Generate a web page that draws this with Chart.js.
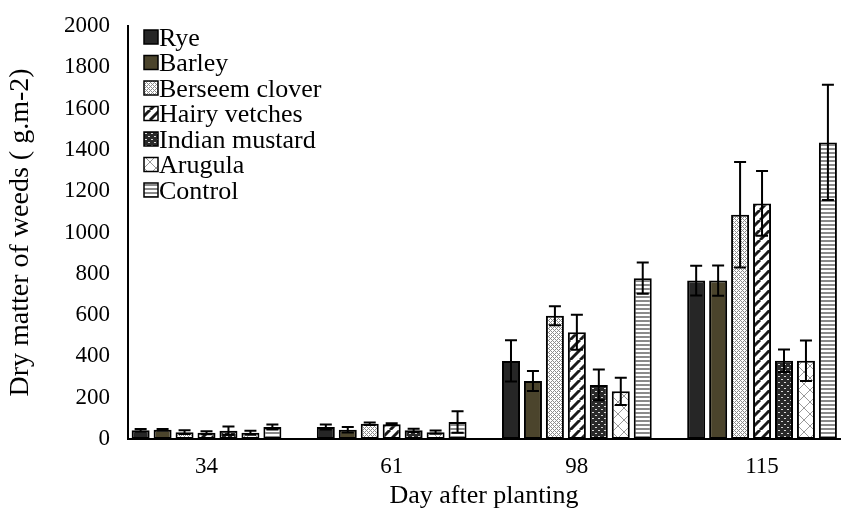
<!DOCTYPE html>
<html>
<head>
<meta charset="utf-8">
<script src="https://cdn.jsdelivr.net/npm/chart.js@4/dist/chart.umd.min.js"></script>
<style>
  html, body { margin: 0; padding: 0; background: #ffffff; }
  #wrap { width: 849px; height: 516px; }
</style>
</head>
<body>
<div id="wrap"><canvas id="chart" width="849" height="516"></canvas></div>
<script>
// Days after planting (x categories)
const categories = ['34', '61', '98', '115'];
const seriesNames = ['Rye', 'Barley', 'Berseem clover', 'Hairy vetches', 'Indian mustard', 'Arugula', 'Control'];

// Weed dry matter (g m-2) per treatment, and the error-bar half heights
const rye         = [42, 58, 378, 767];
const barley      = [45, 45, 281, 767];
const berseem     = [33, 74, 597, 1086];
const hairyVetch  = [30, 71, 517, 1141];
const mustard     = [40, 42, 262, 379];
const arugula     = [30, 33, 231, 379];
const control     = [58, 82, 779, 1436];

const ryeErr      = [7, 12, 100, 72];
const barleyErr   = [4, 13, 48, 73];
const berseemErr  = [9, 6, 46, 255];
const hairyErr    = [7, 5, 85, 157];
const mustardErr  = [20, 8, 74, 55];
const arugulaErr  = [10, 8, 66, 98];
const controlErr  = [12, 52, 76, 279];

const yTicks = [0, 200, 400, 600, 800, 1000, 1200, 1400, 1600, 1800, 2000];

const FONT = "'Liberation Serif', 'Times New Roman', serif";

// ---- fill patterns -------------------------------------------------------
function tile(w, h, draw) {
  const c = document.createElement('canvas');
  c.width = w; c.height = h;
  const g = c.getContext('2d');
  draw(g, w, h);
  return document.getElementById('chart').getContext('2d').createPattern(c, 'repeat');
}

const fills = [
  '#262626',
  '#4b442c',
  // fine grey lattice
  tile(4, 4, (g) => {
    g.fillStyle = '#ffffff'; g.fillRect(0, 0, 4, 4);
    g.fillStyle = '#8c8c8c';
    g.fillRect(0, 0, 1, 1); g.fillRect(2, 2, 1, 1);
    g.fillRect(1, 1, 1, 1); g.fillRect(3, 3, 1, 1);
    g.fillRect(3, 1, 1, 1); g.fillRect(1, 3, 1, 1);
  }),
  // wide upward diagonal stripes
  tile(10, 10, (g) => {
    g.fillStyle = '#ffffff'; g.fillRect(0, 0, 10, 10);
    g.strokeStyle = '#1a1a1a'; g.lineWidth = 3;
    for (let k = -10; k <= 20; k += 10) {
      g.beginPath(); g.moveTo(k, 10); g.lineTo(k + 10, 0); g.stroke();
    }
  }),
  // dark with small light dashes
  tile(6, 6, (g) => {
    g.fillStyle = '#2a2a2a'; g.fillRect(0, 0, 6, 6);
    g.fillStyle = '#d9d9d9';
    g.fillRect(1, 1, 2, 1); g.fillRect(4, 4, 2, 1);
  }),
  // large diagonal cross-hatch
  tile(12, 12, (g) => {
    g.fillStyle = '#ffffff'; g.fillRect(0, 0, 12, 12);
    g.strokeStyle = '#9a9a9a'; g.lineWidth = 1;
    g.beginPath(); g.moveTo(0, 0); g.lineTo(12, 12); g.stroke();
    g.beginPath(); g.moveTo(12, 0); g.lineTo(0, 12); g.stroke();
  }),
  // narrow horizontal stripes
  tile(4, 4, (g) => {
    g.fillStyle = '#ffffff'; g.fillRect(0, 0, 4, 4);
    g.fillStyle = '#8a8a8a'; g.fillRect(0, 0, 4, 2);
  })
];

const values = [rye, barley, berseem, hairyVetch, mustard, arugula, control];
const errors = [ryeErr, barleyErr, berseemErr, hairyErr, mustardErr, arugulaErr, controlErr];

const datasets = seriesNames.map((name, i) => ({
  label: name,
  data: values[i].map((v, j) => ({ x: j, y: v })),
  errors: errors[i],
  backgroundColor: fills[i],
  borderColor: '#000000',
  borderWidth: 2,
  borderSkipped: false,
  categoryPercentage: 0.83,
  barPercentage: 0.82
}));

// ---- error bars ---------------------------------------------------------
const errorBars = {
  id: 'errorBars',
  afterDatasetsDraw(chart) {
    const ctx = chart.ctx;
    const y = chart.scales.y;
    ctx.save();
    ctx.strokeStyle = '#000000';
    ctx.lineWidth = 2;
    chart.data.datasets.forEach((ds, i) => {
      const meta = chart.getDatasetMeta(i);
      meta.data.forEach((bar, j) => {
        const v = ds.data[j].y, e = ds.errors[j];
        const x = bar.x;
        const yt = y.getPixelForValue(v + e);
        const yb = y.getPixelForValue(Math.max(v - e, 0));
        const cap = 6;
        ctx.beginPath();
        ctx.moveTo(x, yt); ctx.lineTo(x, yb);
        ctx.moveTo(x - cap, yt); ctx.lineTo(x + cap, yt);
        ctx.moveTo(x - cap, yb); ctx.lineTo(x + cap, yb);
        ctx.stroke();
      });
    });
    ctx.restore();
  }
};

// ---- legend drawn inside the plot ----------------------------------------
const innerLegend = {
  id: 'innerLegend',
  afterDraw(chart) {
    const ctx = chart.ctx;
    ctx.save();
    ctx.font = '26px ' + FONT;
    ctx.textBaseline = 'alphabetic';
    chart.data.datasets.forEach((ds, i) => {
      const cy = 37 + i * 25.5;
      const bx = 144, size = 14;
      ctx.fillStyle = ds.backgroundColor;
      ctx.fillRect(bx, cy - size / 2, size, size);
      ctx.strokeStyle = '#000000';
      ctx.lineWidth = 1.5;
      ctx.strokeRect(bx, cy - size / 2, size, size);
      ctx.fillStyle = '#000000';
      ctx.fillText(ds.label, 159, cy + 8.5);
    });
    ctx.restore();
  }
};

new Chart(document.getElementById('chart'), {
  type: 'bar',
  data: { datasets },
  options: {
    responsive: false,
    animation: false,
    layout: { padding: { left: 0, right: 9, top: 26, bottom: 0 } },
    plugins: {
      legend: { display: false },
      tooltip: { enabled: false }
    },
    scales: {
      x: {
        type: 'linear',
        offset: false,
        min: -0.424,
        max: 3.421,
        afterBuildTicks: (s) => { s.ticks = categories.map((_, j) => ({ value: j })); },
        afterFit: (s) => { s.height = 77; s.paddingLeft = 0; s.paddingRight = 0; },
        grid: { display: false, drawTicks: false },
        border: { display: true, color: '#000000', width: 2 },
        ticks: {
          color: '#000000',
          font: { family: FONT, size: 23 },
          padding: 14,
          maxRotation: 0,
          callback: (v) => categories[v]
        },
        title: {
          display: true,
          text: 'Day after planting',
          color: '#000000',
          font: { family: FONT, size: 26 },
          padding: { top: 0, bottom: 4 }
        }
      },
      y: {
        min: 0,
        max: 2000,
        afterBuildTicks: (s) => { s.ticks = yTicks.map((v) => ({ value: v })); },
        afterFit: (s) => { s.width = 128; s.paddingTop = 0; s.paddingBottom = 0; },
        grid: { display: false, drawTicks: false },
        border: { display: true, color: '#000000', width: 2 },
        ticks: {
          color: '#000000',
          font: { family: FONT, size: 23 },
          padding: 18,
          callback: (v) => String(v)
        },
        title: {
          display: true,
          text: 'Dry matter of weeds ( g.m-2)',
          color: '#000000',
          font: { family: FONT, size: 28 },
          padding: { top: 4, bottom: 0 }
        }
      }
    }
  },
  plugins: [errorBars, innerLegend]
});
</script>
</body>
</html>
